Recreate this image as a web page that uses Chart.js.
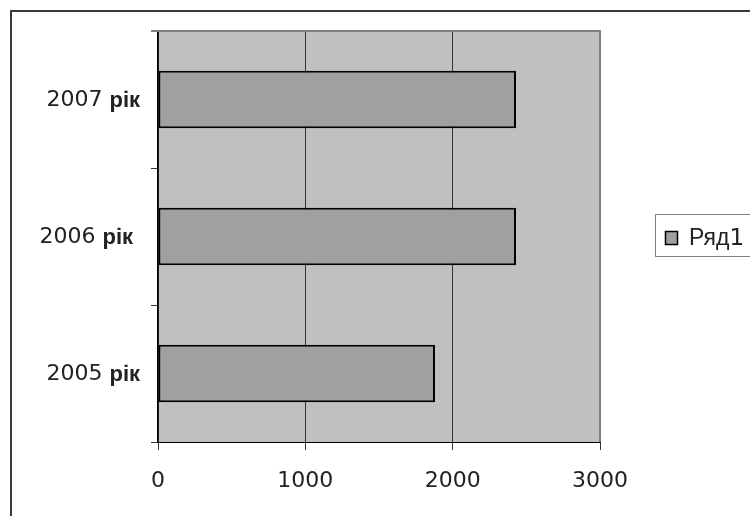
<!DOCTYPE html>
<html>
<head>
<meta charset="utf-8">
<script src="https://cdn.jsdelivr.net/npm/chart.js@4/dist/chart.umd.min.js"></script>
<style>
  html, body { margin: 0; padding: 0; background: #fff; }
  #wrap { width: 750px; height: 516px; position: relative; }
</style>
</head>
<body>
<div id="wrap"><canvas id="c" width="750" height="516"></canvas></div>
<script>
// Output by year
const categories = ['2007 рік', '2006 рік ', '2005 рік'];
const seriesName = 'Ряд1';
const values = [2430, 2430, 1880];
const xTicks = [0, 1000, 2000, 3000];

const plotBg = '#C0C0C0';
const barFill = '#A0A0A0';
const numFont = "'DejaVu Sans'";
const wordFont = "'Liberation Sans'";
const textColor = '#222';

// Plot backdrop, outer frame, plot edges, mixed-font labels and legend box
const decorations = {
  id: 'decorations',
  beforeDraw(chart) {
    const { ctx, chartArea: a } = chart;
    ctx.save();
    ctx.fillStyle = plotBg;
    ctx.fillRect(a.left, a.top, a.right - a.left, a.bottom - a.top);
    // frame around the whole drawing
    ctx.strokeStyle = '#3a3a3a';
    ctx.lineWidth = 2;
    ctx.beginPath();
    ctx.moveTo(11, 516);
    ctx.lineTo(11, 11);
    ctx.lineTo(750, 11);
    ctx.stroke();
    ctx.restore();
  },
  afterDraw(chart) {
    const { ctx, chartArea: a } = chart;
    const yScale = chart.scales.y;
    ctx.save();
    // top and right edges of the plot
    ctx.strokeStyle = '#808080';
    ctx.lineWidth = 2;
    ctx.beginPath();
    ctx.moveTo(a.left - 7, a.top);
    ctx.lineTo(a.right, a.top);
    ctx.lineTo(a.right, a.bottom);
    ctx.stroke();

    // category labels: year in one face, word in another
    ctx.fillStyle = textColor;
    ctx.textBaseline = 'middle';
    const rightEdge = 140;
    const numCss = '22px ' + numFont;
    const wordCss = 'bold 22px ' + wordFont;
    categories.forEach((label, i) => {
      const y = yScale.getPixelForValue(i);
      const trimmed = label.replace(/\s+$/, '');
      const trailing = label.length - trimmed.length;
      const sp = trimmed.lastIndexOf(' ');
      const num = trimmed.slice(0, sp + 1);
      const word = trimmed.slice(sp + 1);
      ctx.font = numCss;
      const trailW = ctx.measureText(' '.repeat(trailing)).width;
      const numW = ctx.measureText(num).width;
      ctx.font = wordCss;
      const wordW = ctx.measureText(word).width;
      const end = rightEdge - trailW;
      const start = end - wordW - numW;
      ctx.font = numCss;
      ctx.textAlign = 'left';
      ctx.fillText(num, start, y + 1);
      ctx.font = wordCss;
      ctx.fillText(word, start + numW, y + 1);
    });

    // legend
    ctx.strokeStyle = '#808080';
    ctx.lineWidth = 1;
    ctx.strokeRect(655.5, 214.5, 120, 42);
    ctx.fillStyle = barFill;
    ctx.fillRect(665.5, 231.5, 12, 13);
    ctx.strokeStyle = '#000';
    ctx.lineWidth = 1.5;
    ctx.strokeRect(665.5, 231.5, 12, 13);
    ctx.fillStyle = textColor;
    ctx.textBaseline = 'alphabetic';
    const m = seriesName.match(/^(\D*)(\d*)$/);
    ctx.font = '23px ' + wordFont;
    ctx.fillText(m[1], 689, 245);
    const w1 = ctx.measureText(m[1]).width;
    ctx.font = '23px ' + numFont;
    ctx.fillText(m[2], 689 + w1, 245);
    ctx.restore();
  }
};

new Chart(document.getElementById('c'), {
  type: 'bar',
  data: {
    labels: categories,
    datasets: [{
      label: seriesName,
      data: values,
      backgroundColor: barFill,
      borderColor: '#000',
      borderWidth: 2,
      borderSkipped: false,
      categoryPercentage: 1,
      barPercentage: 0.42
    }]
  },
  options: {
    indexAxis: 'y',
    responsive: false,
    animation: false,
    devicePixelRatio: 1,
    layout: { padding: { top: 31, right: 150, left: 0, bottom: 0 } },
    plugins: { legend: { display: false }, tooltip: { enabled: false } },
    scales: {
      x: {
        min: xTicks[0],
        max: xTicks[xTicks.length - 1],
        afterBuildTicks(scale) { scale.ticks = xTicks.map(v => ({ value: v })); },
        afterFit(scale) { scale.height = 74; },
        grid: {
          color: ctx => (ctx.tick && ctx.tick.value === xTicks[xTicks.length - 1]) ? '#808080' : '#333',
          lineWidth: 1,
          drawTicks: true,
          tickLength: 8,
          tickColor: '#333'
        },
        border: { display: true, color: '#000', width: 1 },
        ticks: {
          font: { family: numFont, size: 22 },
          color: textColor,
          padding: 18,
          maxRotation: 0,
          callback: v => String(v)
        }
      },
      y: {
        afterFit(scale) { scale.width = 158; },
        grid: {
          offset: true,
          drawOnChartArea: false,
          drawTicks: true,
          tickLength: 7,
          tickColor: '#333'
        },
        border: { display: true, color: '#000', width: 1.5 },
        ticks: { display: false }
      }
    }
  },
  plugins: [decorations]
});
</script>
</body>
</html>
